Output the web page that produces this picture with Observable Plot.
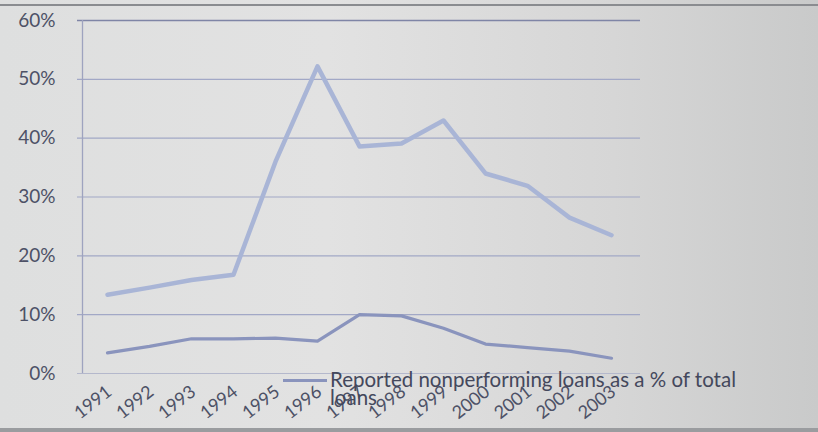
<!DOCTYPE html>
<html>
<head>
<meta charset="utf-8">
<script src="https://cdn.jsdelivr.net/npm/d3@7"></script>
<script src="https://cdn.jsdelivr.net/npm/@observablehq/plot@0.6"></script>
<style>
  html, body { margin: 0; padding: 0; }
  body {
    width: 818px; height: 432px; overflow: hidden; position: relative;
    background: linear-gradient(90deg, #dedfdf 0%, #e2e2e2 40%, #d6d6d6 75%, #c9caca 100%);
    font-family: Lato, "Open Sans", sans-serif;
  }
  #frameTop { position: absolute; left: 0; top: 4px; width: 818px; height: 2px; background: #8a8c90; }
  #frameBottom { position: absolute; left: 0; top: 428px; width: 818px; height: 4px; background: #9a9c9f; }
  #chart { position: absolute; left: 0; top: 0; }
  #chart g[aria-label="y-axis tick label"] { font-size: 19px; }
  #chart g[aria-label="x-axis tick label"] text { font-size: 18px; }
  #legend { position: absolute; left: 283px; top: 370px; display: flex; align-items: flex-start;
    color: #44485c; font-size: 20.5px; line-height: 18px; }
  #legend .sw { width: 44px; height: 3px; background: #8a94bd; margin-top: 9px; margin-right: 3px; }
  #legend .tx { width: 440px; }
</style>
</head>
<body>
<div id="frameTop"></div>
<div id="frameBottom"></div>
<div id="chart"></div>
<div id="legend"><div class="sw"></div><div class="tx" id="legendText"></div></div>
<script>
const years = ["1991","1992","1993","1994","1995","1996","1997","1998","1999","2000","2001","2002","2003"];
const upperSeries = [13.4, 14.6, 15.9, 16.8, 36, 52.2, 38.6, 39.1, 43, 34, 31.9, 26.5, 23.5];
const reportedNPL = [3.5, 4.6, 5.9, 5.9, 6.0, 5.5, 10.0, 9.8, 7.7, 5.0, 4.4, 3.8, 2.6];
const yTicks = [0, 10, 20, 30, 40, 50, 60];
const legendLabel = "Reported nonperforming loans as a % of total loans";

const upper = years.map((y, i) => ({year: y, value: upperSeries[i]}));
const lower = years.map((y, i) => ({year: y, value: reportedNPL[i]}));

const chart = Plot.plot({
  width: 818,
  height: 432,
  marginLeft: 77,
  marginRight: 178,
  marginTop: 20,
  marginBottom: 59,
  style: { background: "transparent", fontFamily: "Lato, 'Open Sans', sans-serif" },
  x: { type: "point", domain: years, padding: 0.59 },
  y: { domain: [0, 60] },
  marks: [
    Plot.ruleY(yTicks.filter(d => d > 0 && d < 60), { stroke: "#a2a8c6", strokeWidth: 1.2 }),
    Plot.ruleY([60], { stroke: "#7f85a6", strokeWidth: 1.5 }),
    Plot.ruleY([0], { stroke: "#b4b8cc", strokeWidth: 1 }),
    Plot.ruleX([years[0]], { y1: 0, y2: 60, stroke: "#9ea3bf", strokeWidth: 1.3, dx: -25 }),
    Plot.axisY({ ticks: yTicks, tickFormat: d => d + "%", tickSize: 0, tickPadding: 22,
      fill: "#4d5166", label: null }),
    Plot.axisX({ tickSize: 0, tickRotate: -38, tickPadding: 16, fill: "#4d5166", label: null, dx: 2 }),
    Plot.lineY(upper, { x: "year", y: "value", stroke: "#a9b5d6", strokeWidth: 4.5, strokeLinejoin: "round" }),
    Plot.lineY(lower, { x: "year", y: "value", stroke: "#8a94bd", strokeWidth: 3.2, strokeLinejoin: "round" })
  ]
});
document.getElementById("chart").appendChild(chart);
document.getElementById("legendText").textContent = legendLabel;
</script>
</body>
</html>
